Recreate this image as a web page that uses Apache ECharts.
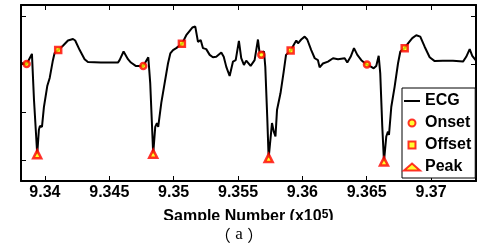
<!DOCTYPE html>
<html>
<head>
<meta charset="utf-8">
<script src="https://cdn.jsdelivr.net/npm/echarts@6/dist/echarts.min.js"></script>
<style>
html,body{margin:0;padding:0;background:#fff;}
#chart{width:486px;height:248px;}
</style>
</head>
<body>
<div id="chart"></div>
<script>
// Sample numbers (raw) and ECG amplitude (arbitrary units, y ticks at 0..3)
const ecgSamples = [933814,933858,933899,933915,933940,933953,933961,933977,933992,934018,934037,934062,934075,934103,934140,934179,934218,934235,934270,934308,934334,934435,934567,934580,934611,934645,934668,934705,934723,934764,934803,934818,934841,934857,934870,934880,934904,934930,934956,934974,934995,935020,935064,935098,935145,935168,935189,935210,935228,935253,935280,935305,935331,935370,935389,935409,935435,935461,935482,935507,935525,935546,935564,935598,935629,935655,935668,935681,935702,935712,935727,935738,935764,935778,935791,935803,935830,935855,935873,935909,935940,935953,935966,935991,936018,936038,936069,936096,936121,936134,936160,936199,936238,936277,936329,936349,936375,936401,936427,936458,936489,936502,936536,936554,936574,936593,936605,936621,936634,936652,936665,936673,936691,936717,936743,936761,936795,936821,936854,936885,936916,936950,936989,937028,937092,937170,937248,937273,937300,937320,937346];
const ecgValues = [2.02,2.00,2.21,1.25,0.12,0.63,0.71,0.69,1.10,1.54,1.71,2.08,2.23,2.29,2.38,2.49,2.52,2.49,2.29,2.10,2.04,2.03,2.03,2.08,2.26,2.10,2.03,1.96,1.96,1.96,2.14,1.60,0.13,0.69,0.77,0.69,1.19,1.60,2.01,2.22,2.29,2.33,2.42,2.60,2.76,2.78,2.46,2.50,2.33,2.31,2.19,2.14,2.15,2.24,2.15,1.94,1.75,2.05,2.08,2.48,2.12,1.98,2.07,1.96,2.08,2.51,2.22,2.19,2.26,1.94,0.90,0.04,0.77,0.59,0.49,1.04,1.39,1.84,2.19,2.28,2.43,2.49,2.43,2.51,2.57,2.51,2.29,2.12,2.08,1.93,2.01,2.05,2.12,2.10,2.12,2.03,2.15,2.33,2.19,2.08,2.01,1.99,1.94,1.91,1.96,2.17,1.81,0.69,-0.03,0.49,0.59,0.52,1.11,1.53,2.01,2.26,2.33,2.43,2.54,2.60,2.57,2.36,2.14,2.06,2.07,2.07,2.05,2.15,2.31,2.17,2.08];

const onsetSamples = [933858,934764,935681,936502];
const onsetValues  = [2.00,1.96,2.19,1.99];
const offsetSamples = [934103,935064,935909,936795];
const offsetValues  = [2.29,2.42,2.28,2.33];
const peakSamples = [933940,934841,935738,936634];
const peakValues  = [0.12,0.13,0.04,-0.03];

const xTickValues = [934000,934500,935000,935500,936000,936500,937000];
const yTickValues = [0,1,2,3];
const xMin = 933814, xMax = 937349;
const yMin = -0.4375, yMax = 3.229;

const FONT = '"Liberation Sans", Arial, sans-serif';
const zip = (a, b) => a.map((v, i) => [v, b[i]]);

const chart = echarts.init(document.getElementById('chart'), null, {renderer: 'canvas'});

const axisLine = {show: true, onZero: false, lineStyle: {color: '#000', width: 2}};
const tickStyle = {color: '#000', width: 1};

const markerStyle = {color: '#ffff00', borderColor: '#ff0000', borderWidth: 2.5};

chart.setOption({
  animation: false,
  backgroundColor: '#fff',
  grid: {left: 21, right: 10, top: 5, bottom: 67, containLabel: false, outerBoundsMode: 'none'},
  xAxis: [{
    type: 'value', min: xMin, max: xMax, position: 'bottom',
    axisLine: axisLine,
    axisTick: {inside: true, length: 5, customValues: xTickValues, lineStyle: tickStyle},
    axisLabel: {customValues: xTickValues, margin: 4, fontSize: 16, fontWeight: 'bold', color: '#000', fontFamily: FONT,
      formatter: v => String(+(v / 1e5).toFixed(3))},
    splitLine: {show: false},
    name: 'Sample Number (x10{sup|5})', nameLocation: 'middle', nameGap: 28,
    nameTextStyle: {fontSize: 16, fontWeight: 'bold', color: '#000', fontFamily: FONT,
      rich: {sup: {fontSize: 12, fontWeight: 'bold', color: '#000', fontFamily: FONT, verticalAlign: 'top', lineHeight: 6}}}
  }, {
    type: 'value', min: xMin, max: xMax, position: 'top',
    axisLine: axisLine,
    axisTick: {inside: true, length: 5, customValues: xTickValues, lineStyle: tickStyle},
    axisLabel: {show: false},
    splitLine: {show: false}
  }],
  yAxis: [{
    type: 'value', min: yMin, max: yMax, position: 'left',
    axisLine: axisLine,
    axisTick: {inside: true, length: 5, customValues: yTickValues, lineStyle: tickStyle},
    axisLabel: {show: false},
    splitLine: {show: false}
  }, {
    type: 'value', min: yMin, max: yMax, position: 'right',
    axisLine: axisLine,
    axisTick: {inside: true, length: 5, customValues: yTickValues, lineStyle: tickStyle},
    axisLabel: {show: false},
    splitLine: {show: false}
  }],
  legend: {
    orient: 'vertical', left: 402, top: 88,
    padding: [5, 4, 3, 1], itemGap: 6, itemWidth: 16, itemHeight: 7,
    borderColor: '#000', borderWidth: 1, backgroundColor: '#fff',
    selectedMode: false,
    textStyle: {fontSize: 16, fontWeight: 'bold', color: '#000', fontFamily: FONT},
    data: [
      {name: 'ECG', icon: 'path://M0,0H16V2H0Z', itemStyle: {color: '#000', borderWidth: 0}},
      {name: 'Onset', icon: 'circle'},
      {name: 'Offset', icon: 'path://M0,0H10V10H0Z'},
      {name: 'Peak', icon: 'triangle'}
    ]
  },
  series: [{
    name: 'ECG', type: 'line', data: zip(ecgSamples, ecgValues),
    symbol: 'none', lineStyle: {color: '#000', width: 2}, itemStyle: {color: '#000'}, z: 2
  }, {
    name: 'Onset', type: 'scatter', data: zip(onsetSamples, onsetValues),
    symbol: 'circle', symbolSize: 6, itemStyle: markerStyle, z: 3
  }, {
    name: 'Offset', type: 'scatter', data: zip(offsetSamples, offsetValues),
    symbol: 'rect', symbolSize: 6, itemStyle: markerStyle, z: 3
  }, {
    name: 'Peak', type: 'scatter', data: zip(peakSamples, peakValues),
    symbol: 'triangle', symbolSize: 8, itemStyle: {color: '#ffff00', borderColor: '#ff0000', borderWidth: 2.5}, z: 3
  }],
  graphic: [{
    type: 'rect', left: 0, top: 220, shape: {width: 486, height: 28}, style: {fill: '#fff'}, z: 100, silent: true
  }, {
    type: 'text', x: 239, y: 235, z: 101, silent: true,
    style: {
      text: '{p|（}{s| }{a|a}{s| }{p|）}', fill: '#000', textAlign: 'center', textVerticalAlign: 'middle',
      rich: {
        p: {fontFamily: '"Noto Sans CJK SC"', fontSize: 16, fontWeight: 'normal', fill: '#000'},
        s: {fontFamily: '"Liberation Sans"', fontSize: 16, fontWeight: 'normal'},
        a: {fontFamily: '"Liberation Serif", serif', fontSize: 17, fontWeight: 'normal', fill: '#000'}
      }
    }
  }]
});
</script>
</body>
</html>
